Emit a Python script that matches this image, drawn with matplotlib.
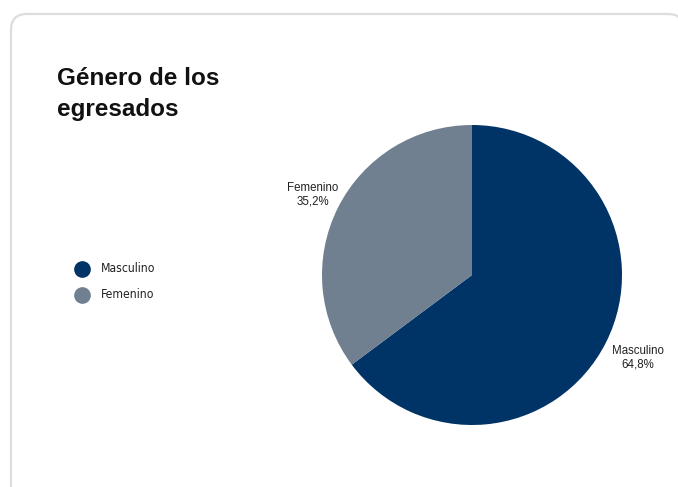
import matplotlib
matplotlib.use("Agg")
import matplotlib.pyplot as plt
from matplotlib.patches import FancyBboxPatch
import numpy as np

categories = ["Masculino", "Femenino"]
values = [64.8, 35.2]
colors = ["#003366", "#708090"]
title = "Género de los\negresados"

W, H = 678, 487
fig = plt.figure(figsize=(W/100, H/100), dpi=100)
fig.patch.set_facecolor("white")

# card
cax = fig.add_axes([0, 0, 1, 1], zorder=-10)
cax.set_xlim(0, W); cax.set_ylim(H, 0); cax.axis("off")
card = FancyBboxPatch((11, 14), 673, 490, boxstyle="round,pad=0,rounding_size=16",
                      facecolor="white", edgecolor="#dddddd", linewidth=1.6)
cax.add_patch(card)

fig.text(57/W, 1-67/H, title, fontsize=17.5, fontweight="bold", family="Liberation Sans",
         va="top", ha="left", linespacing=1.45, color="#111111")

cx, cy, r = 472, 275, 150
ax = fig.add_axes([(cx-r)/W, 1-(cy+r)/H, 2*r/W, 2*r/H])
ax.set_zorder(5)
wedges, texts = ax.pie(values, colors=colors, startangle=90, counterclock=False,
                       labels=[f"{c}\n{str(v).replace('.', ',')}%" for c, v in zip(categories, values)],
                       textprops=dict(fontsize=8.3, family="Liberation Sans", color="#222222",
                                      ha="center", va="center", linespacing=1.2))
dists = [1.235, 1.19]
for w, t, d in zip(wedges, texts, dists):
    th = np.deg2rad((w.theta1 + w.theta2) / 2)
    t.set_position((d*np.cos(th), d*np.sin(th)))
    t.set_ha("center")
ax.set_aspect("equal")
ax.set_xlim(-1, 1); ax.set_ylim(-1, 1)

# legend
ly = [269, 295]
for c, col, y in zip(categories, colors, ly):
    fig.lines.append(plt.Line2D([82/W], [1-y/H], marker="o", markersize=11, color=col,
                                linestyle="none", transform=fig.transFigure))
    fig.text(101/W, 1-y/H, c, fontsize=8.7, family="DejaVu Sans", fontstretch="condensed",
             va="center", ha="left", color="#222222")

fig.savefig("out.png", dpi=100, facecolor="white")
